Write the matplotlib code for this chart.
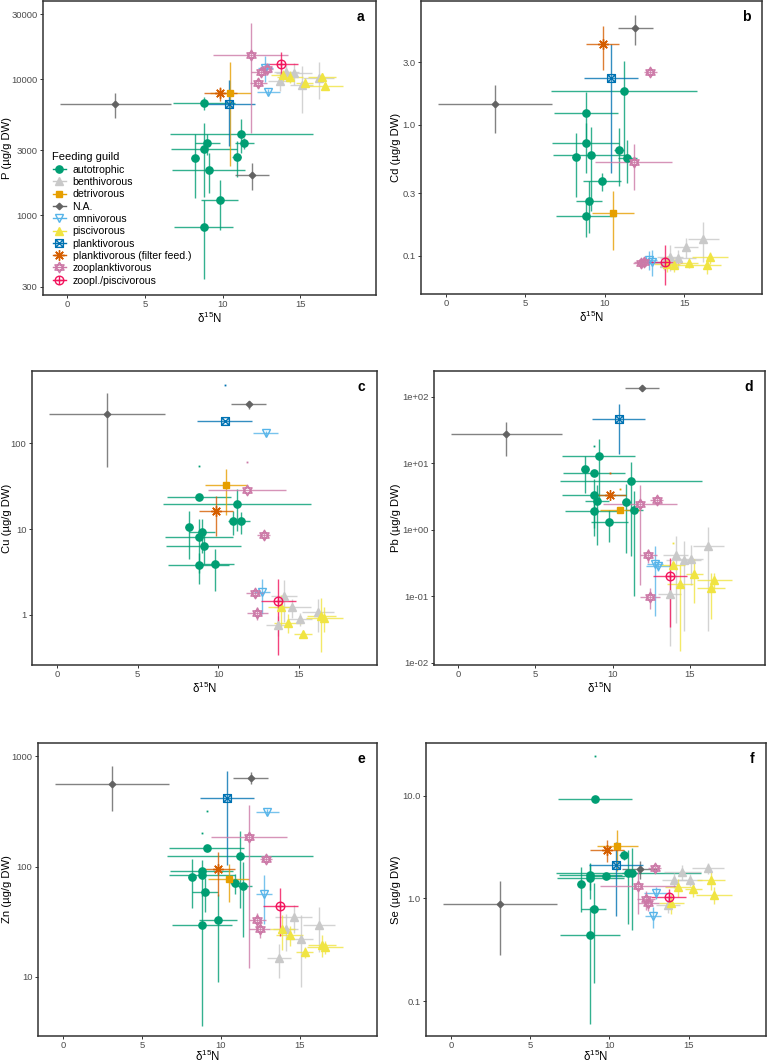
import numpy as np
import matplotlib
matplotlib.use("Agg")
import matplotlib.pyplot as plt
from matplotlib.path import Path
from matplotlib.lines import Line2D

plt.rcParams['font.family'] = ['Liberation Sans', 'DejaVu Sans']
plt.rcParams['mathtext.default'] = 'regular'

# ---- data: one entry per species (mean +/- sd) ----
guild = (["autotrophic"] * 10 + ["benthivorous"] * 5 + ["detrivorous"] + ["N.A."] * 2
         + ["omnivorous"] * 2 + ["piscivorous"] * 5 + ["planktivorous"]
         + ["planktivorous (filter feed.)"] + ["zooplanktivorous"] * 4 + ["zoopl./piscivorous"])

d15n = [8.8, 11.2, 9.0, 11.4, 8.8, 8.2, 10.9, 9.1, 9.8, 8.8,
        13.7, 14.1, 14.6, 15.1, 16.2,
        10.5,
        3.1, 11.9,
        12.75, 12.95,
        13.9, 14.35, 15.3, 16.4, 16.6,
        10.4,
        9.85,
        11.8, 12.3, 12.45, 12.85,
        13.75]
d15n_sd = [2.0, 4.6, 0.8, 0.6, 2.1, 0.25, 0.3, 2.35, 1.2, 1.9,
           0.75, 0.8, 1.15, 0.75, 1.0,
           1.3,
           3.6, 1.1,
           0.5, 0.75,
           0.8, 0.85, 0.55, 0.9, 1.15,
           1.7,
           1.05,
           2.4, 0.55, 0.65, 0.4,
           1.1]

P_mean = [6650, 3990, 3370, 3370, 3070, 2630, 2700, 2160, 1300, 820,
          9670, 11200, 11100, 9040, 10200,
          7850,
          6520, 1975,
          12100, 8070,
          10700, 10400, 9450, 10400, 8930,
          6520,
          7850,
          15000, 9400, 11300, 11800,
          12900]
P_sd = [700, 1100, 600, 300, 1700, 1300, 800, 700, 520, 480,
        1500, 1500, 2000, 3350, 3100,
        5550,
        1350, 430,
        2600, 400,
        1000, 1000, 800, 700, 500,
        3300,
        900,
        11000, 800, 800, 1000,
        3000]

Cd_mean = [1.23, 1.82, 0.26, 0.56, 0.73, 0.57, 0.64, 0.59, 0.37, 0.20,
           0.088, 0.098, 0.096, 0.116, 0.135,
           0.21,
           1.43, 5.43,
           0.093, 0.090,
           0.087, 0.085, 0.088, 0.085, 0.097,
           2.28,
           4.13,
           0.515, 0.088, 0.090, 2.54,
           0.090]
Cd_sd = [0.56, 1.25, 0.11, 0.2, 0.3, 0.29, 0.3, 0.37, 0.06, 0.06,
         0.01, 0.022, 0.015, 0.02, 0.045,
         0.1,
         0.57, 1.4,
         0.015, 0.02,
         0.012, 0.01, 0.008, 0.012, 0.01,
         1.85,
         1.5,
         0.2, 0.008, 0.008, 0.15,
         0.03]

Cu_mean = [24, 19.6, 9.2, 12.3, 8.1, 10.5, 12.5, 6.4, 3.9, 3.8,
           0.76, 1.67, 1.22, 0.89, 1.08,
           32.6,
           218, 285,
           1.83, 131,
           1.22, 0.81, 0.59, 0.97, 0.93,
           184,
           16.2,
           28.6, 1.79, 1.04, 8.5,
           1.47]
Cu_sd = [30, 10, 4, 3.5, 5, 6, 4, 2.5, 2, 1.5,
         0.2, 0.85, 0.3, 0.15, 0.45,
         18,
         165, 30,
         0.8, 10,
         0.5, 0.2, 0.05, 0.6, 0.3,
         296,
         7.9,
         32.5, 0.2, 0.18, 1,
         1.13]

Pb_mean = [7.2, 5.4, 2.7, 2.0, 3.3, 8.2, 2.65, 12.9, 1.33, 1.95,
           0.108, 0.42, 0.35, 0.37, 0.57,
           2.0,
           27.3, 136,
           0.31, 0.29,
           0.296, 0.155, 0.22, 0.135, 0.177,
           45.8,
           3.3,
           2.45, 0.42, 0.099, 2.8,
           0.205]
Pb_sd = [11.3, 5.0, 2.1, 1.9, 2.5, 4.6, 2.2, 10, 0.67, 0.9,
         0.09, 0.38, 0.32, 0.22, 0.54,
         2.05,
         14.5, 8,
         0.26, 0.05,
         0.33, 0.14, 0.14, 0.09, 0.05,
         32,
         3.8,
         2.3, 0.1, 0.035, 0.3,
         0.17]

Zn_mean = [92, 126, 58.6, 66, 84, 80, 71, 149, 33, 29.6,
           14.8, 27, 34.8, 22, 29.7,
           77,
           568, 643,
           57, 315,
           27.1, 24, 16.8, 19.5, 18.5,
           424,
           94.6,
           187, 33, 27.3, 117,
           43.5]
Zn_sd = [110, 84, 20, 43, 30, 38, 15, 170, 24, 26,
         5, 10, 10, 14, 13,
         29,
         250, 80,
         27, 20,
         9.5, 5, 2, 4.5, 2.5,
         320,
         40,
         175, 5, 5, 8,
         20]

Se_mean = [1.71, 1.76, 0.79, 1.79, 1.59, 1.39, 2.65, 9.3, 1.64, 0.44,
           0.87, 1.52, 1.8, 1.52, 1.97,
           3.27,
           0.88, 1.94,
           0.67, 1.13,
           0.9, 1.28, 1.23, 1.52, 1.09,
           2.12,
           2.97,
           1.31, 0.98, 0.91, 1.96,
           1.04]
Se_sd = [0.5, 1.2, 0.64, 1.3, 0.6, 0.65, 0.3, 15.2, 0.1, 0.38,
         0.15, 0.25, 0.3, 0.2, 0.25,
         1.4,
         0.6, 0.4,
         0.15, 0.15,
         0.2, 0.25, 0.2, 0.3, 0.2,
         1.45,
         0.7,
         0.6, 0.2, 0.15, 0.1,
         0.2]

guild_order = ["autotrophic", "benthivorous", "detrivorous", "N.A.", "omnivorous",
               "piscivorous", "planktivorous", "planktivorous (filter feed.)",
               "zooplanktivorous", "zoopl./piscivorous"]

# ---- marker shapes ----
M, L, C = Path.MOVETO, Path.LINETO, Path.CLOSEPOLY
hexagram = Path([(0, 1), (-0.866, -0.5), (0.866, -0.5), (0, 1),
                 (0, -1), (-0.866, 0.5), (0.866, 0.5), (0, -1)],
                [M, L, L, C, M, L, L, C])
sqcross = Path([(-1, -1), (1, -1), (1, 1), (-1, 1), (-1, -1),
                (-1, -1), (1, 1), (-1, 1), (1, -1)],
               [M, L, L, L, C, M, L, M, L])
circplus = Path.make_compound_path(
    Path.unit_circle(),
    Path([(-1, 0), (1, 0), (0, -1), (0, 1)], [M, L, M, L]))

styles = {
    "autotrophic": dict(color="#009E73", marker="o", ms=5.2, filled=True),
    "benthivorous": dict(color="#C9C9C9", marker="^", ms=5.8, filled=True),
    "detrivorous": dict(color="#E69F00", marker="s", ms=5.0, filled=True),
    "N.A.": dict(color="#636363", marker="D", ms=3.3, filled=True),
    "omnivorous": dict(color="#56B4E9", marker="v", ms=6.2, filled=False),
    "piscivorous": dict(color="#F0E442", marker="^", ms=5.8, filled=True),
    "planktivorous": dict(color="#0072B2", marker=sqcross, ms=5.6, filled=False),
    "planktivorous (filter feed.)": dict(color="#D55E00", marker=(8, 2, 0), ms=7.5, filled=False),
    "zooplanktivorous": dict(color="#CC79A7", marker=hexagram, ms=7.6, filled=False),
    "zoopl./piscivorous": dict(color="#F2145D", marker=circplus, ms=6.2, filled=False),
}

panels = [
    ("a", "P (µg/g DW)", P_mean, P_sd, (260, 37500),
     [300, 1000, 3000, 10000, 30000], ["300", "1000", "3000", "10000", "30000"]),
    ("b", "Cd (µg/g DW)", Cd_mean, Cd_sd, (0.051, 8.8),
     [0.1, 0.3, 1.0, 3.0], ["0.1", "0.3", "1.0", "3.0"]),
    ("c", "Cu (µg/g DW)", Cu_mean, Cu_sd, (0.26, 700),
     [1, 10, 100], ["1", "10", "100"]),
    ("d", "Pb (µg/g DW)", Pb_mean, Pb_sd, (0.0093, 244),
     [0.01, 0.1, 1, 10, 100], ["1e-02", "1e-01", "1e+00", "1e+01", "1e+02"]),
    ("e", "Zn (µg/g DW)", Zn_mean, Zn_sd, (2.9, 1325),
     [10, 100, 1000], ["10", "100", "1000"]),
    ("f", "Se (µg/g DW)", Se_mean, Se_sd, (0.0457, 32.7),
     [0.1, 1.0, 10.0], ["0.1", "1.0", "10.0"]),
]

# axes boxes in pixels (left, top, right, bottom) on a 767 x 1063 canvas,
# plus the x pixel of each y-axis title centre and the x-title offset below the axes
W, H = 767, 1063
boxes = [(43, 1, 376, 295), (421, 1, 762, 294),
         (32, 371, 377, 665), (434, 371, 765, 665),
         (38, 743, 377, 1036), (426, 743, 766, 1036)]
ylab_x = [7, 396, 7, 396, 7, 396]
xlab_dy = [23, 23, 23, 23, 20.5, 20.5]

fig = plt.figure(figsize=(W / 100, H / 100), dpi=100)

x = np.array(d15n)
xs = np.array(d15n_sd)
g = np.array(guild)

for (letter, ylab, ymean, ysd, ylim, yt, ytl), (l, t, r, b), yx, dy in zip(panels, boxes, ylab_x, xlab_dy):
    ax = fig.add_axes([l / W, 1 - b / H, (r - l) / W, (b - t) / H])
    y = np.array(ymean, dtype=float)
    s = np.array(ysd, dtype=float)

    # error bars first
    for gname in guild_order:
        st = styles[gname]
        m = g == gname
        ax.hlines(y[m], x[m] - xs[m], x[m] + xs[m], color=st["color"], lw=1.0, alpha=0.8, zorder=2)
        ok = m & (y - s > 0)
        ax.vlines(x[ok], y[ok] - s[ok], y[ok] + s[ok], color=st["color"], lw=1.0, alpha=0.8, zorder=2)
        cap = m & (y - s <= 0)
        if cap.any():
            ax.plot(x[cap], y[cap] + s[cap], ls="none", marker="s", ms=1.3, mew=0,
                    color=st["color"], zorder=2)

    # points on top
    for gname in guild_order:
        st = styles[gname]
        m = g == gname
        face = st["color"] if st["filled"] else "none"
        ax.plot(x[m], y[m], ls="none", marker=st["marker"], ms=st["ms"],
                mfc=face, mec=st["color"], mew=1.0, zorder=3)

    ax.set_yscale("log")
    ax.set_xlim(-1.57, 19.88)
    ax.set_ylim(*ylim)
    ax.set_xticks([0, 5, 10, 15])
    ax.set_yticks(yt)
    ax.set_yticklabels(ytl)
    ax.yaxis.set_minor_locator(matplotlib.ticker.NullLocator())
    ax.tick_params(axis="both", labelsize=6.8, labelcolor="#4D4D4D", color="#333333",
                   length=2.5, width=0.7, pad=1.5)
    ax.tick_params(axis="x", pad=1.0)
    for sp in ax.spines.values():
        sp.set_color("#333333")
        sp.set_linewidth(1.1)
    ax.set_xlabel(r"δ$^{15}$N", fontsize=8.3)
    ax.xaxis.set_label_coords(0.5, -dy / (b - t))
    ax.xaxis.label.set_va("center")
    ax.set_ylabel(ylab, fontsize=8.1)
    ax.yaxis.set_label_coords((yx - l) / (r - l), 0.5)
    ax.yaxis.label.set_va("center")
    ax.text(0.965, 0.945, letter, transform=ax.transAxes, ha="right", va="center",
            fontsize=10, fontweight="bold")

    if letter == "a":
        handles = []
        for gname in guild_order:
            st = styles[gname]
            face = st["color"] if st["filled"] else "none"
            handles.append(Line2D([], [], color=st["color"], lw=1.0, marker=st["marker"],
                                  ms=st["ms"], mfc=face, mec=st["color"], mew=1.0))
        leg = ax.legend(handles, guild_order, title="Feeding guild", loc="lower left",
                        bbox_to_anchor=(0.0, 0.0), frameon=False, fontsize=7.6,
                        title_fontsize=8.0, handlelength=1.3, handletextpad=0.6,
                        labelspacing=0.22, borderaxespad=0.5, alignment="left")

fig.savefig("out.png", dpi=100)
